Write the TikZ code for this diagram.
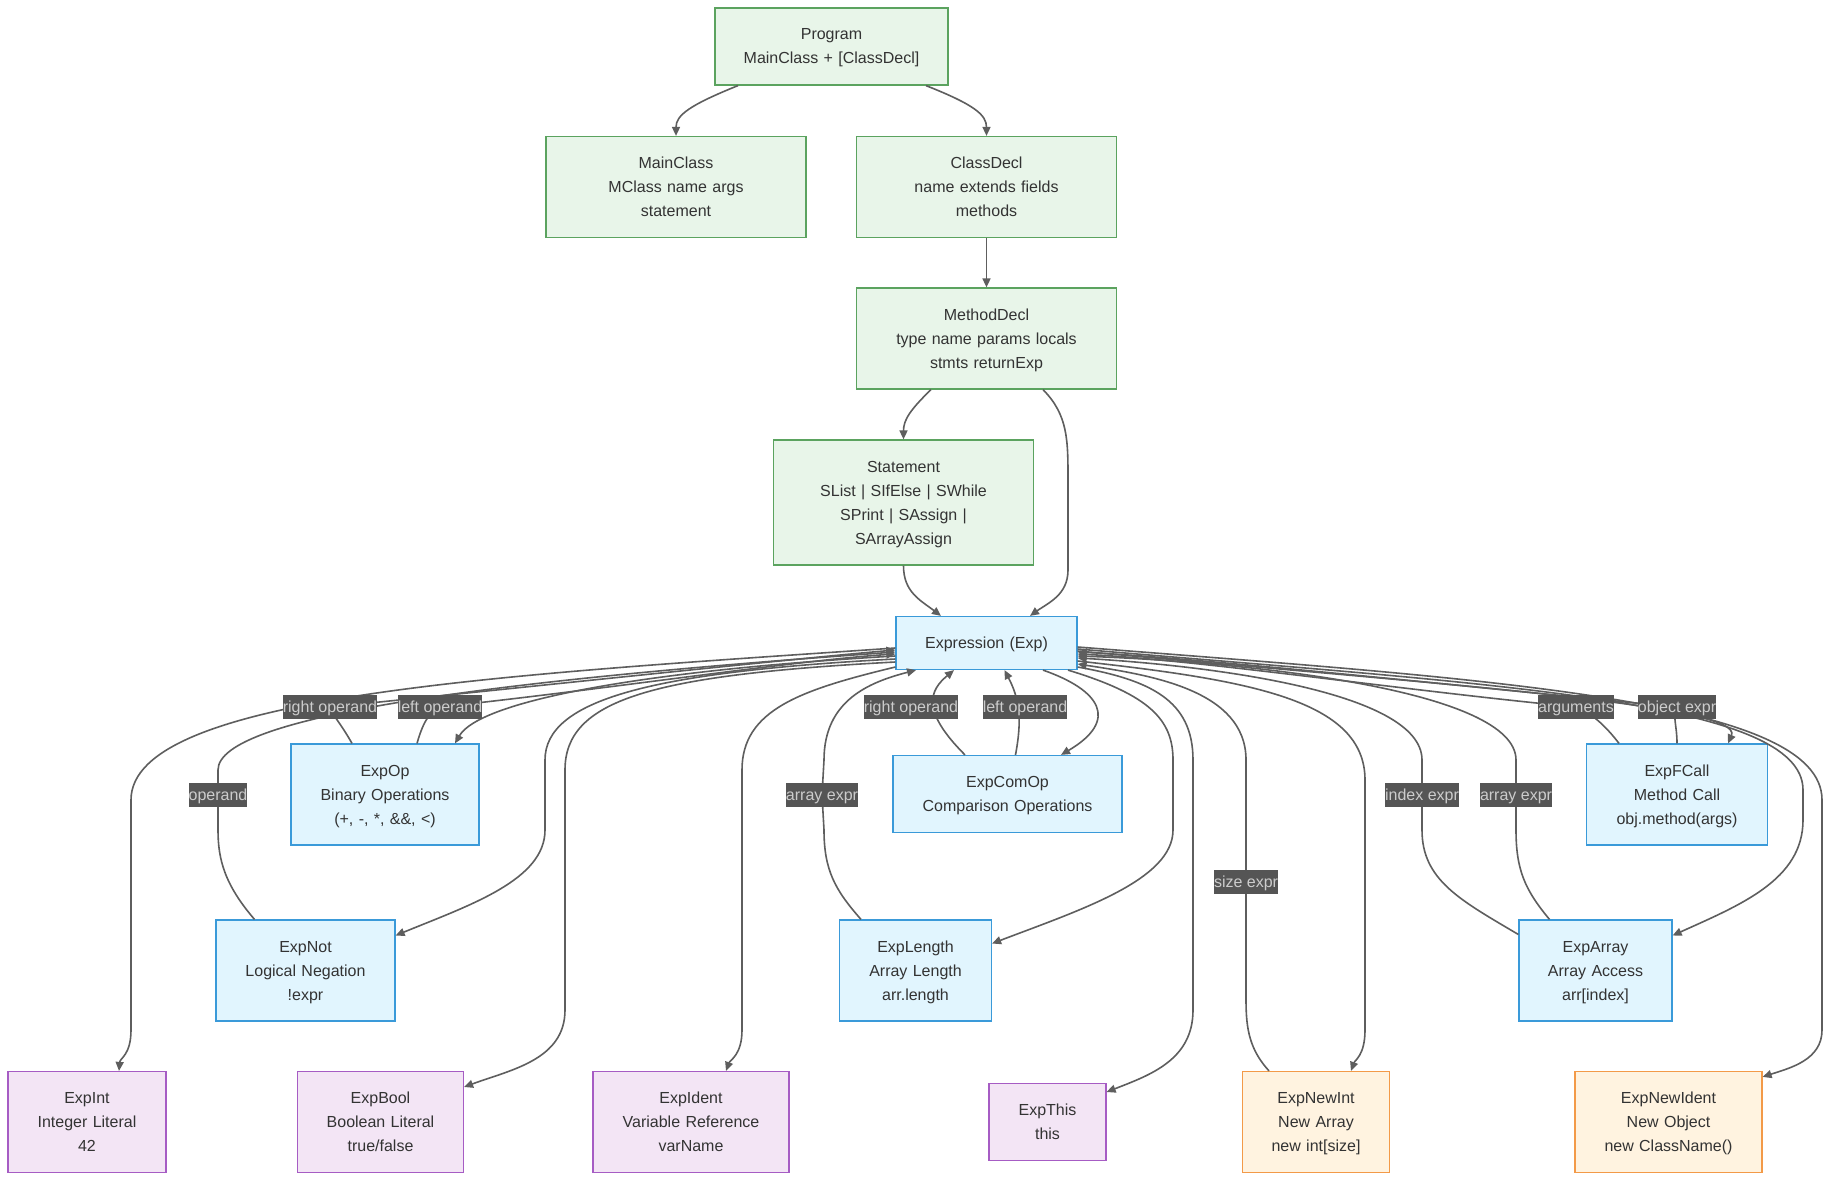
\documentclass[tikz,border=0pt]{standalone}
\usepackage{fontspec}
\setmainfont{Liberation Sans}
\usetikzlibrary{arrows.meta}
\definecolor{txtgray}{HTML}{333333}
\definecolor{linegray}{HTML}{5E5E5E}
\definecolor{greenfill}{HTML}{E8F5E9}
\definecolor{greenline}{HTML}{5BA35F}
\definecolor{bluefill}{HTML}{E1F5FE}
\definecolor{blueline}{HTML}{3A9AD9}
\definecolor{purplefill}{HTML}{F3E5F5}
\definecolor{purpleline}{HTML}{A65CC4}
\definecolor{orangefill}{HTML}{FFF3E0}
\definecolor{orangeline}{HTML}{F39A48}
\definecolor{labelfill}{HTML}{555555}
\definecolor{labeltext}{HTML}{CCCCCC}
\newcommand{\linebox}{\rule[-6.5pt]{0pt}{24pt}}
\begin{document}
\begin{tikzpicture}[x=1pt,y=-1pt,
  nodebox/.style={draw, line width=1.2pt, align=center, inner sep=0pt, text=txtgray, font=\fontsize{16}{24}\selectfont,
    execute at begin node=\linebox, execute at end node=\linebox},
  progbox/.style={nodebox, fill=greenfill, draw=greenline},
  expbox/.style={nodebox, fill=bluefill, draw=blueline},
  leafbox/.style={nodebox, fill=purplefill, draw=purpleline},
  newbox/.style={nodebox, fill=orangefill, draw=orangeline},
  boxsize/.style 2 args={text width=#1, minimum height=#2},
  flow/.style={draw=linegray, line width=1.6pt, -{Triangle[length=9pt,width=8pt]}},
  elabel/.style={fill=labelfill, text=labeltext, inner sep=0pt, minimum height=24pt, font=\fontsize{16}{24}\selectfont,
    execute at begin node=\linebox}]
\useasboundingbox (0,0) rectangle (1831,1182);
\fill[white] (0,0) rectangle (1831,1182);
% program structure
\node[progbox, boxsize={233}{77}] (prog) at (831.5,46.5){Program\\MainClass + [ClassDecl]};
\node[progbox, boxsize={260}{101}] (mainc) at (676,187){MainClass\\MClass name args\\statement};
\node[progbox, boxsize={260}{101}] (classd) at (986.5,187){ClassDecl\\name extends fields\\methods};
\node[progbox, boxsize={260}{101}] (methd) at (986.5,338.5){MethodDecl\\type name params locals\\stmts returnExp};
\node[progbox, boxsize={260}{125}] (stmt) at (903.5,502.5){Statement\\SList | SIfElse | SWhile\\SPrint | SAssign |\\SArrayAssign};
% expressions
\node[expbox, boxsize={181}{53}] (expr) at (986.5,643){Expression (Exp)};
\node[expbox, boxsize={188}{101}] (expop) at (385,794.5){ExpOp\\Binary Operations\\(+, -, *, \&\&, <)};
\node[expbox, boxsize={229}{77}] (excomop) at (1007.5,794){ExpComOp\\Comparison Operations};
\node[expbox, boxsize={181}{101}] (expfcall) at (1677,794.5){ExpFCall\\Method Call\\obj.method(args)};
\node[expbox, boxsize={179}{101}] (expnot) at (305.5,970.5){ExpNot\\Logical Negation\\!expr};
\node[expbox, boxsize={152}{101}] (explen) at (915.5,970.5){ExpLength\\Array Length\\arr.length};
\node[expbox, boxsize={153}{101}] (exparr) at (1595.5,970.5){ExpArray\\Array Access\\arr[index]};
% leaves
\node[leafbox, boxsize={158}{101}] (expint) at (87,1122){ExpInt\\Integer Literal\\42};
\node[leafbox, boxsize={166}{101}] (expbool) at (380.5,1122){ExpBool\\Boolean Literal\\true/false};
\node[leafbox, boxsize={196}{101}] (expident) at (691,1122){ExpIdent\\Variable Reference\\varName};
\node[leafbox, boxsize={117}{77}] (expthis) at (1047.5,1122){ExpThis\\this};
\node[newbox, boxsize={147}{101}] (expnewint) at (1316,1122){ExpNewInt\\New Array\\new int[size]};
\node[newbox, boxsize={187}{101}] (expnewid) at (1668.5,1122){ExpNewIdent\\New Object\\new ClassName()};
% label spots
\coordinate (lOpR) at (330,707);
\coordinate (lOpL) at (440,707);
\coordinate (lNot) at (218,795);
\coordinate (lComR) at (911,707);
\coordinate (lComL) at (1025,707);
\coordinate (lLen) at (822,795);
\coordinate (lSize) at (1246,882);
\coordinate (lIdx) at (1422,795);
\coordinate (lArr) at (1516,795);
\coordinate (lArgs) at (1576,707);
\coordinate (lObj) at (1677,707);
% top edges
\draw[flow] ([xshift=-93.5]prog.south) .. controls (690,105) and (676,115) .. (mainc.north);
\draw[flow] ([xshift=94.5]prog.south) .. controls (975,105) and (986.5,115) .. (classd.north);
\draw[flow] (classd) -- (methd);
\draw[flow] ([xshift=-55.5]methd.south) .. controls (910,410) and (903.5,420) .. (stmt.north);
\draw[flow] ([xshift=56.5]methd.south) .. controls (1068,415) and (1068,440) .. (1068,480) -- (1068,570) .. controls (1068,595) and (1048,603) .. ([xshift=43.5]expr.north);
\draw[flow] (stmt.south) .. controls (903.5,592) and (920,600) .. ([xshift=-45.5]expr.north);
% left side
\draw[flow] ([yshift=-5]expr.west) .. controls (500,675) and (131,695) .. (131,800) -- (131,1030) .. controls (131,1055) and (120,1058) .. ([xshift=32]expint.north);
\draw[flow] ([xshift=-33]expop.north) .. controls (340,722) and (330,712) .. (lOpR) .. controls (500,690) and (780,660) .. ([yshift=-7]expr.west);
\draw[flow] ([xshift=-51]expnot.north) .. controls (225,885) and (218,860) .. (218,830) -- (lNot) -- (218,770) .. controls (218,715) and (500,680) .. ([yshift=-9]expr.west);
\draw[flow] ([xshift=32]expop.north) .. controls (422,726) and (428,712) .. (lOpL) .. controls (600,690) and (800,660) .. ([yshift=-11]expr.west);
\draw[flow] ([yshift=-13]expr.west) .. controls (650,670) and (480,700) .. ([xshift=70]expop.north);
\draw[flow] ([yshift=-16]expr.west) .. controls (650,672) and (545,700) .. (545,760) -- (545,830) .. controls (545,880) and (470,905) .. ([yshift=35]expnot.east);
\draw[flow] ([yshift=-19]expr.west) .. controls (650,675) and (565,700) .. (565,770) -- (565,1010) .. controls (565,1060) and (510,1070) .. ([yshift=35]expbool.east);
\draw[flow] ([yshift=-24]expr.west) .. controls (800,690) and (742,710) .. (742,770) -- (742,1030) .. controls (742,1055) and (730,1060) .. ([xshift=35]expident.north);
% middle
\draw[flow] ([xshift=-54.5]explen.north) .. controls (835,890) and (824,870) .. (824,830) -- (lLen) -- (824,760) .. controls (824,700) and (870,682) .. ([xshift=-70.5]expr.south);
\draw[flow] ([xshift=81.5]expr.south) .. controls (1150,695) and (1173,720) .. (1173,760) -- (1173,830) .. controls (1173,880) and (1080,910) .. ([yshift=27]explen.east);
\draw[flow] ([xshift=-42.5]excomop.north) .. controls (920,710) and (930,690) .. ([xshift=-32.5]expr.south);
\draw[flow] ([xshift=8]excomop.north) .. controls (1022,720) and (1020,700) .. ([xshift=18]expr.south);
\draw[flow] ([xshift=56.5]expr.south) .. controls (1100,690) and (1120,720) .. ([xshift=53.5]excomop.north);
% right side
\draw[flow] ([yshift=-24]expr.east) .. controls (1150,680) and (1193,700) .. (1193,760) -- (1193,1010) .. controls (1193,1060) and (1150,1075) .. ([yshift=30]expthis.east);
\draw[flow] ([xshift=-47]expnewint.north) .. controls (1250,1050) and (1246,1030) .. (1246,1000) -- (lSize) -- (1246,760) .. controls (1246,690) and (1150,675) .. ([yshift=-21]expr.east);
\draw[flow] ([yshift=-18]expr.east) .. controls (1250,680) and (1365,700) .. (1365,780) -- (1365,1030) .. controls (1365,1055) and (1355,1060) .. ([xshift=35]expnewint.north);
\draw[flow] ([yshift=36]exparr.west) .. controls (1460,900) and (1422,880) .. (1422,830) -- (lIdx) -- (1422,760) .. controls (1422,690) and (1200,665) .. ([yshift=-15]expr.east);
\draw[flow] ([xshift=-46]exparr.north) .. controls (1525,890) and (1516,870) .. (1516,830) -- (lArr) -- (1516,760) .. controls (1516,690) and (1250,662) .. ([yshift=-13]expr.east);
\draw[flow] ([xshift=-58]expfcall.north) .. controls (1605,725) and (1590,712) .. (lArgs) .. controls (1400,690) and (1200,660) .. ([yshift=-11]expr.east);
\draw[flow] (expfcall.north) .. controls (1677,725) and (1672,715) .. (lObj) .. controls (1500,690) and (1200,658) .. ([yshift=-9]expr.east);
\draw[flow] ([yshift=-8]expr.east) .. controls (1450,685) and (1745,705) .. ([xshift=51]expfcall.north);
\draw[flow] ([yshift=-6]expr.east) .. controls (1500,685) and (1803,700) .. (1803,790) -- (1803,820) .. controls (1803,880) and (1740,905) .. ([yshift=35]exparr.east);
\draw[flow] ([yshift=-4]expr.east) .. controls (1500,680) and (1822,700) .. (1822,800) -- (1822,1030) .. controls (1822,1060) and (1790,1068) .. ([yshift=-6]expnewid.north east);
% edge labels
\node[elabel] (tOpR) at (lOpR){right operand};
\node[elabel] (tOpL) at (lOpL){left operand};
\node[elabel] (tNot) at (lNot){operand};
\node[elabel] (tComR) at (lComR){right operand};
\node[elabel] (tComL) at (lComL){left operand};
\node[elabel] (tLen) at (lLen){array expr};
\node[elabel] (tSize) at (lSize){size expr};
\node[elabel] (tIdx) at (lIdx){index expr};
\node[elabel] (tArr) at (lArr){array expr};
\node[elabel] (tArgs) at (lArgs){arguments};
\node[elabel] (tObj) at (lObj){object expr};
\end{tikzpicture}
\end{document}
